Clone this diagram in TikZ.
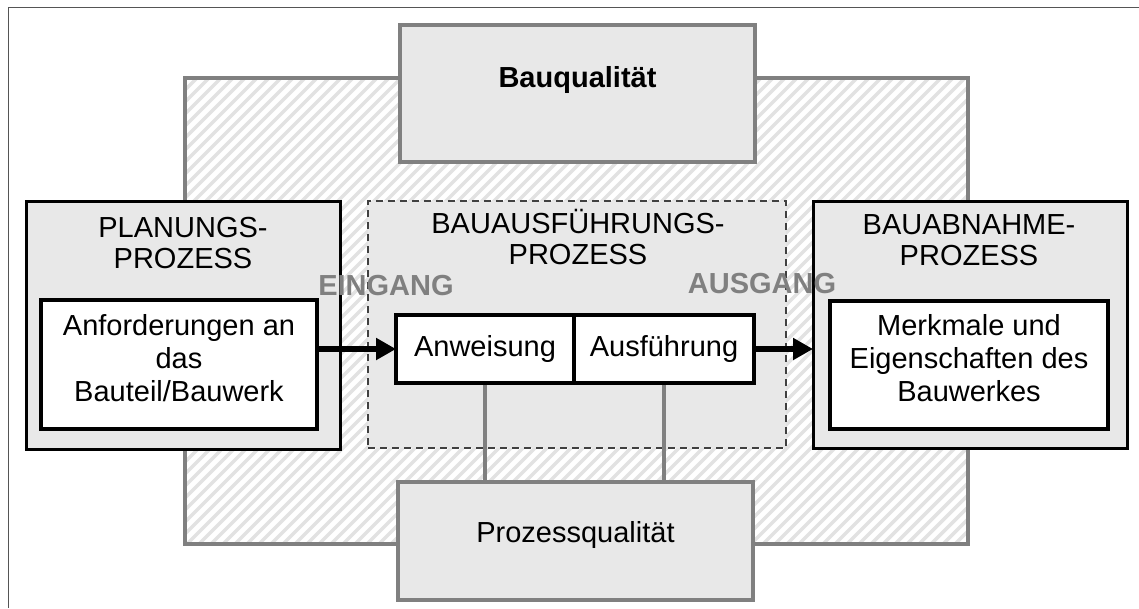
\documentclass[tikz,border=0pt]{standalone}
\usepackage{fontspec}
\setmainfont{Liberation Sans}
\usetikzlibrary{arrows.meta}
\definecolor{boxfill}{HTML}{E8E8E8}
\definecolor{bordergray}{HTML}{808080}
\definecolor{dashgray}{HTML}{404040}
\definecolor{stripegray}{HTML}{E2E2E2}
\definecolor{framegray}{HTML}{555555}
\begin{document}
\begin{tikzpicture}[x=1pt,y=-1pt,
  every node/.style={inner sep=0pt, outer sep=0pt, font=\fontsize{29}{33}\selectfont},
  qualbox/.style={draw=bordergray, line width=4pt, fill=boxfill},
  procbox/.style={draw=black, line width=3pt, fill=boxfill},
  innerbox/.style={draw=black, line width=4pt, fill=white},
  execbox/.style={draw=dashgray, line width=2.5pt, dash pattern=on 7pt off 5pt, fill=boxfill},
  title/.style={align=center, font=\fontsize{29}{31}\selectfont},
  body/.style={align=center},
  gatelabel/.style={text=bordergray, font=\fontsize{29}{33}\selectfont\bfseries},
  bigarrow/.style={line width=6.5pt, -{Triangle[length=20pt,width=21pt]}},
  connector/.style={draw=bordergray, line width=4pt, shorten <=2pt, shorten >=2pt}
]
\useasboundingbox (0,0) rectangle (1139,608);
\draw[framegray, line width=1.3pt] (8.5,608) -- (8.5,7.5) -- (1139,7.5);
% hatched area
\fill[white] (185,78) rectangle (968,544);
\begin{scope}
  \clip (185,78) rectangle (968,544);
  \foreach \k in {0,...,105}{
    \draw[stripegray, line width=3.5pt] ({-281+12*\k},544) -- ({185+12*\k},78);
  }
\end{scope}
\draw[bordergray, line width=4pt] (185,78) rectangle (968,544);
% quality boxes
\node[qualbox, minimum width=355pt, minimum height=137pt] (bauq) at (577.5,93.5) {};
\node[font=\fontsize{29}{33}\selectfont\bfseries] (bauqt) at (577.5,80) {Bauqualität};
\node[qualbox, minimum width=355pt, minimum height=118pt] (prozq) at (575.5,541) {};
\node (prozqt) at (575.5,535) {Prozessqualität};
% planning
\node[procbox, minimum width=314pt, minimum height=248pt] (plan) at (183,325) {};
\node[title] (plant) at (183,243) {PLANUNGS-\\PROZESS};
\node[innerbox, minimum width=276pt, minimum height=129pt] (anf) at (179,364.5) {};
\node[body] (anft) at (179,358) {Anforderungen an\\das\\Bauteil/Bauwerk};
% execution
\node[execbox, minimum width=418pt, minimum height=247pt] (exec) at (577,324.5) {};
\node[title] (exect) at (578,237) {BAUAUSFÜHRUNGS-\\PROZESS};
\node[innerbox, minimum width=178pt, minimum height=68pt] (anw) at (485,349) {Anweisung};
\node[innerbox, minimum width=180pt, minimum height=68pt] (ausf) at (664,349) {Ausführung};
% acceptance
\node[procbox, minimum width=314pt, minimum height=247pt] (abn) at (970,324.5) {};
\node[title] (abnt) at (969,240) {BAUABNAHME-\\PROZESS};
\node[innerbox, minimum width=278pt, minimum height=128pt] (merk) at (969,365) {};
\node[body] (merkt) at (969,358) {Merkmale und\\Eigenschaften des\\Bauwerkes};
% connectors
\draw[connector] (anw.south) -- (anw.south |- prozq.north);
\draw[connector] (ausf.south) -- (ausf.south |- prozq.north);
\draw[bigarrow] (anf.east |- anw.west) -- (anw.west);
\draw[bigarrow] (ausf.east) -- (abn.west |- ausf.east);
\node[gatelabel] (ein) at (386,286) {EINGANG};
\node[gatelabel] (aus) at (762,284) {AUSGANG};
\end{tikzpicture}
\end{document}
